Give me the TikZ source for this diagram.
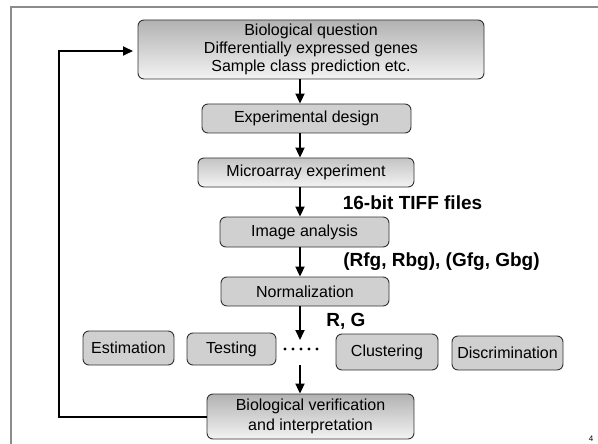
\documentclass[tikz,border=0pt]{standalone}
\usepackage{fontspec}
\setmainfont{Liberation Sans}
\usetikzlibrary{arrows.meta}
\definecolor{flatgray}{RGB}{208,208,208}
\definecolor{gtop}{RGB}{178,178,178}
\definecolor{gbot}{RGB}{243,243,243}
\definecolor{gtopl}{RGB}{196,196,196}
\definecolor{edgecol}{RGB}{50,50,50}
\definecolor{framecol}{RGB}{140,140,140}
\tikzset{
  boxbase/.style={draw=edgecol, line width=0.9pt, rounded corners=6pt, inner sep=0pt,
    align=center, font=\fontsize{16}{18}\selectfont},
  flatbox/.style={boxbase, fill=flatgray},
  gradbox/.style={boxbase, top color=gtop, bottom color=gbot},
  gradboxl/.style={boxbase, top color=gtopl, bottom color=gbot},
  arr/.style={line width=2pt, -{Triangle[length=10pt,width=9pt]}},
  blabel/.style={font=\fontsize{19}{21}\selectfont\bfseries, inner sep=0pt}
}
\begin{document}
\begin{tikzpicture}[x=1pt,y=-1pt]
\useasboundingbox (0,0) rectangle (598,444);
% frame
\draw[framecol, line width=1.2pt] (11,444) -- (11,7) -- (598,7);
% nodes
\node[gradbox, minimum width=346pt, minimum height=59pt] (bq) at (311,49.5)
  {Biological question\\Differentially expressed genes\\Sample class prediction etc.};
\node[flatbox, minimum width=209pt, minimum height=29pt] (ed) at (306.5,118.5) {Experimental design};
\node[gradboxl, minimum width=216pt, minimum height=29pt] (ma) at (306,172.5) {Microarray experiment};
\node[flatbox, minimum width=169pt, minimum height=30pt] (ia) at (304.5,232) {Image analysis};
\node[flatbox, minimum width=168pt, minimum height=29pt] (nm) at (305,291.5) {Normalization};
\node[flatbox, minimum width=91pt, minimum height=34pt] (est) at (128.5,348) {Estimation};
\node[flatbox, minimum width=89pt, minimum height=32pt] (tst) at (231.5,349) {Testing};
\node[flatbox, minimum width=102pt, minimum height=36pt] (clu) at (387,352) {Clustering};
\node[flatbox, minimum width=111pt, minimum height=34pt] (dis) at (507.5,353) {Discrimination};
\node[gradbox, minimum width=207pt, minimum height=45pt, font=\fontsize{16}{20}\selectfont] (bv) at (310.5,416.5)
  {Biological verification\\and interpretation};
% labels
\node[blabel] (tiff) at (412.5,203) {16-bit TIFF files};
\node[blabel] (rbg) at (441.5,262) {(Rfg, Rbg), (Gfg, Gbg)};
\node[blabel] (rg) at (346,321) {R, G};
\node[font=\fontsize{8}{9}\selectfont, inner sep=0pt] (pg) at (591,439) {4};
% arrow column
\coordinate (ax) at (300,0);
\coordinate (dtop) at (300,340);
\coordinate (dbot) at (300,365);
\draw[arr] (bq.south -| ax) -- (ed.north -| ax);
\draw[arr] (ed.south -| ax) -- (ma.north -| ax);
\draw[arr] (ma.south -| ax) -- (ia.north -| ax);
\draw[arr] (ia.south -| ax) -- (nm.north -| ax);
\draw[arr] (nm.south -| ax) -- (dtop);
\draw[arr] (dbot) -- (bv.north -| ax);
% dots
\foreach \i in {0,...,4} \fill (285+8*\i,349) circle (1.6pt);
% feedback loop
\coordinate (fb) at (59,200);
\coordinate (bqin) at (133,51);
\draw[arr, rounded corners=0pt] (bv.west) -| (fb) |- (bqin);
\end{tikzpicture}
\end{document}
